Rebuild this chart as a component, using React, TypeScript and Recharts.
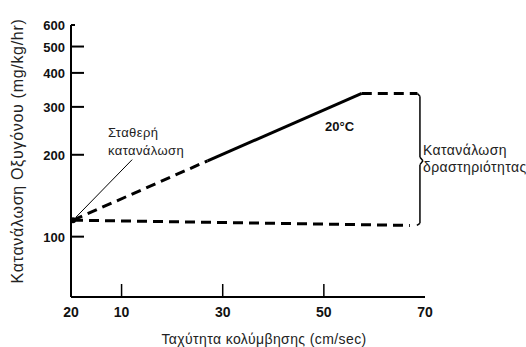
import React from "react";
import { LineChart, Line, XAxis, YAxis, ReferenceLine, ReferenceDot } from "recharts";

// swimming speed (cm/sec) vs oxygen consumption (mg/kg/hr), log y
const xTicks = [0, 10, 30, 50, 70];
const xTickLabels = ["20", "10", "30", "50", "70"];
const yTicks = [100, 200, 300, 400, 500, 600];

const risingDashed = [
    { speed: 0.4, oxygen: 115 },
    { speed: 27, oxygen: 190 },
];
const risingSolid = [
    { speed: 27, oxygen: 190 },
    { speed: 57.5, oxygen: 336 },
];
const plateau = [
    { speed: 57.5, oxygen: 336 },
    { speed: 68.5, oxygen: 336 },
];
const standard = [
    { speed: 0.4, oxygen: 115 },
    { speed: 67, oxygen: 110 },
];

const FONT = "'Liberation Sans', Arial, sans-serif";

function YTick({ x, y, payload }: any) {
    const len = payload.value === 600 ? 4 : 13;
    return (
        <g>
            <line x1={x} x2={x + len} y1={y} y2={y} stroke="#000" strokeWidth={2} />
            <text x={x - 6} y={y} dy={5} textAnchor="end" fontSize={13} fontWeight={700} fontFamily={FONT} fill="#111">
                {payload.value}
            </text>
        </g>
    );
}

function XTick({ x, y, payload, index }: any) {
    const hasMark = payload.value !== 0 && payload.value !== 70;
    return (
        <g>
            {hasMark && <line x1={x} x2={x} y1={y} y2={y - 13} stroke="#000" strokeWidth={1.5} />}
            <text x={x} y={y + 20} textAnchor="middle" fontSize={14} fontWeight={700} fontFamily={FONT} fill="#111">
                {xTickLabels[index]}
            </text>
        </g>
    );
}

export default function App() {
    const dash = "10 6";
    return (
        <div style={{ position: "absolute", left: 0, top: 0, width: 526, height: 347, background: "#fff" }}>
            <LineChart width={526} height={347} margin={{ top: 25, right: 101, left: 31, bottom: 20 }}>
                <XAxis
                    type="number"
                    dataKey="speed"
                    domain={[0, 70]}
                    ticks={xTicks}
                    tick={<XTick />}
                    tickLine={false}
                    tickSize={0}
                    tickMargin={0}
                    height={30}
                    interval={0}
                    axisLine={{ stroke: "#000", strokeWidth: 2 }}
                />
                <YAxis
                    type="number"
                    dataKey="oxygen"
                    scale="log"
                    domain={[60, 600]}
                    ticks={yTicks}
                    allowDataOverflow
                    tick={<YTick />}
                    tickLine={false}
                    tickSize={0}
                    tickMargin={0}
                    width={40}
                    interval={0}
                    axisLine={{ stroke: "#000", strokeWidth: 2 }}
                />

                <Line data={risingDashed} dataKey="oxygen" stroke="#000" strokeWidth={3} strokeDasharray={dash} dot={false} isAnimationActive={false} />
                <Line data={risingSolid} dataKey="oxygen" stroke="#000" strokeWidth={3} dot={false} isAnimationActive={false} />
                <Line data={plateau} dataKey="oxygen" stroke="#000" strokeWidth={3} strokeDasharray={dash} dot={false} isAnimationActive={false} />
                <Line data={standard} dataKey="oxygen" stroke="#000" strokeWidth={3} strokeDasharray={dash} dot={false} isAnimationActive={false} />

                {/* leader line to the starting point */}
                <ReferenceLine segment={[{ x: 12.1, y: 192 }, { x: 1, y: 118 }]} stroke="#000" strokeWidth={1} />
                <ReferenceDot x={0.4} y={115} r={3} fill="#000" stroke="none" />

                {/* brace around the activity range */}
                <ReferenceLine segment={[{ x: 68.5, y: 336 }, { x: 69, y: 328 }]} stroke="#000" strokeWidth={1.5} />
                <ReferenceLine segment={[{ x: 69, y: 328 }, { x: 69, y: 196 }]} stroke="#000" strokeWidth={1.5} />
                <ReferenceLine segment={[{ x: 69, y: 196 }, { x: 69.6, y: 190 }]} stroke="#000" strokeWidth={1.5} />
                <ReferenceLine segment={[{ x: 69.6, y: 190 }, { x: 69, y: 184 }]} stroke="#000" strokeWidth={1.5} />
                <ReferenceLine segment={[{ x: 69, y: 184 }, { x: 69, y: 112 }]} stroke="#000" strokeWidth={1.5} />
                <ReferenceLine segment={[{ x: 69, y: 112 }, { x: 68.4, y: 110 }]} stroke="#000" strokeWidth={1.5} />
            </LineChart>

            <svg width={526} height={347} style={{ position: "absolute", left: 0, top: 0, pointerEvents: "none" }}>
                <text x={18} y={151} transform="rotate(-90 18 151)" dy={5} textAnchor="middle" fontSize={16} letterSpacing={0.7} fontFamily={FONT} fill="#222">
                    Κατανάλωση Οξυγόνου (mg/kg/hr)
                </text>
                <text x={264} y={344} textAnchor="middle" fontSize={14} letterSpacing={0.4} fontFamily={FONT} fill="#222">
                    Ταχύτητα κολύμβησης (cm/sec)
                </text>
                <text x={108} y={137} fontSize={13} letterSpacing={0.4} fontFamily={FONT} fill="#222">Σταθερή</text>
                <text x={108} y={155} fontSize={13} letterSpacing={0.4} fontFamily={FONT} fill="#222">κατανάλωση</text>
                <text x={325} y={131} fontSize={13} fontWeight={700} fontFamily={FONT} fill="#111">20°C</text>
                <text x={423} y={155} fontSize={14} letterSpacing={0.4} fontFamily={FONT} fill="#222">Κατανάλωση</text>
                <text x={423} y={172} fontSize={14} letterSpacing={0.4} fontFamily={FONT} fill="#222">δραστηριότητας</text>
            </svg>
        </div>
    );
}
